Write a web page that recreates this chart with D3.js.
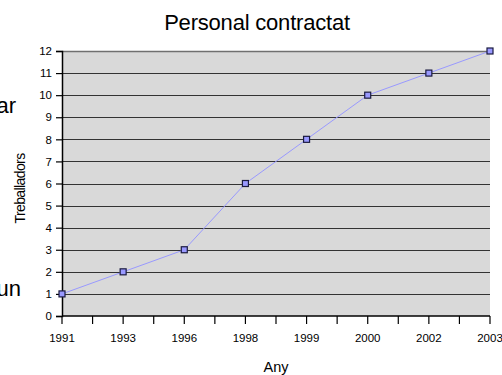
<!DOCTYPE html>
<html>
<head>
<meta charset="utf-8">
<script src="https://cdn.jsdelivr.net/npm/d3@7"></script>
<style>
  body { margin: 0; background: #fff; }
  svg text { font-family: "Liberation Sans", Arial, sans-serif; fill: #000; }
</style>
</head>
<body>
<svg id="chart" width="502" height="375"></svg>
<script>
// chart data
const years = ['1991', '1993', '1996', '1998', '1999', '2000', '2002', '2003'];
const workers = [1, 2, 3, 6, 8, 10, 11, 12];
const yTicks = [0, 1, 2, 3, 4, 5, 6, 7, 8, 9, 10, 11, 12];

const titleText = 'Personal contractat';
const xLabelText = 'Any';
const yLabelText = 'Treballadors';

const svg = d3.select('#chart');
const margin = { top: 51, right: 12, bottom: 59, left: 62 };
const innerWidth = +svg.attr('width') - margin.left - margin.right;
const innerHeight = +svg.attr('height') - margin.top - margin.bottom;

// cut-off text fragments left of the chart
svg.append('text').attr('x', 16).attr('y', 113).attr('text-anchor', 'end')
  .style('font-size', '22px').text('ar');
svg.append('text').attr('x', 21).attr('y', 296).attr('text-anchor', 'end')
  .style('font-size', '22px').text('un');

const xScale = d3.scalePoint().domain(years).range([0, innerWidth]);
const yScale = d3.scaleLinear().domain([0, 12]).range([innerHeight, 0]);

const g = svg.append('g').attr('transform', `translate(${margin.left},${margin.top})`);

// plot background
g.append('rect').attr('width', innerWidth).attr('height', innerHeight).attr('fill', '#d9d9d9');

// horizontal gridlines
g.append('g').selectAll('line').data(yTicks.filter(d => d > 0)).enter().append('line')
  .attr('x1', 0).attr('x2', innerWidth)
  .attr('y1', d => Math.round(yScale(d)) + 0.5).attr('y2', d => Math.round(yScale(d)) + 0.5)
  .attr('stroke', d => d === 12 ? '#707070' : '#333')
  .attr('stroke-width', d => d === 12 ? 1.5 : 1.2);

// y axis
const yAxisG = g.append('g')
  .call(d3.axisLeft(yScale).tickValues(yTicks).tickSize(6).tickPadding(4));
yAxisG.select('.domain').attr('stroke', '#000').attr('stroke-width', 1.5);
yAxisG.selectAll('.tick line').attr('stroke', '#000').attr('stroke-width', 1.2);
yAxisG.selectAll('text').style('font-size', '11.5px');

// x axis, with extra ticks halfway between categories
const step = xScale.step();
const tickPos = d3.range(0, years.length * 2 - 1).map(i => i * step / 2);
const xAxisG = g.append('g').attr('transform', `translate(0,${innerHeight})`);
xAxisG.append('line').attr('x1', 0).attr('x2', innerWidth).attr('y1', 0).attr('y2', 0)
  .attr('stroke', '#000').attr('stroke-width', 1.5);
xAxisG.selectAll('line.tk').data(tickPos).enter().append('line').attr('class', 'tk')
  .attr('x1', d => d).attr('x2', d => d).attr('y1', 0).attr('y2', 8)
  .attr('stroke', '#000').attr('stroke-width', 1.2);
xAxisG.selectAll('text').data(years).enter().append('text')
  .attr('x', d => xScale(d)).attr('y', 26).attr('text-anchor', 'middle')
  .style('font-size', '11.5px').text(d => d);

// series line
const line = d3.line().x((d, i) => xScale(years[i])).y(d => yScale(d));
g.append('path').datum(workers).attr('d', line)
  .attr('fill', 'none').attr('stroke', '#9999ff').attr('stroke-width', 1);

// square markers
g.selectAll('rect.pt').data(workers).enter().append('rect').attr('class', 'pt')
  .attr('x', (d, i) => xScale(years[i]) - 3).attr('y', d => yScale(d) - 3)
  .attr('width', 6).attr('height', 6)
  .attr('fill', '#9999ff').attr('stroke', '#1a1a40').attr('stroke-width', 1.2);

// titles
svg.append('text').attr('x', 257).attr('y', 30).attr('text-anchor', 'middle')
  .style('font-size', '22px').style('letter-spacing', '-0.2px').text(titleText);
svg.append('text').attr('x', margin.left + innerWidth / 2).attr('y', 372)
  .attr('text-anchor', 'middle').style('font-size', '14.5px').text(xLabelText);
svg.append('text')
  .attr('transform', `translate(25,${margin.top + innerHeight / 2 + 5}) rotate(-90)`)
  .attr('text-anchor', 'middle').style('font-size', '14px').style('letter-spacing', '-0.6px')
  .text(yLabelText);
</script>
</body>
</html>
